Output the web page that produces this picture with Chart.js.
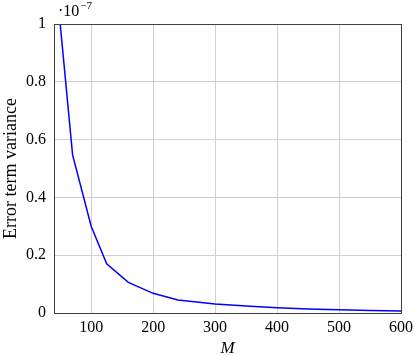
<!DOCTYPE html>
<html lang="en">
<head>
    <meta charset="UTF-8">
    <title>Error term variance</title>
    <script src="https://cdn.jsdelivr.net/npm/chart.js@4.4.0/dist/chart.umd.min.js"></script>
    <style>
        html, body {
            margin: 0;
            padding: 0;
            background: #fff;
        }
        .chart-container {
            position: relative;
            width: 414px;
            height: 356px;
        }
    </style>
</head>
<body>
    <div class="chart-container">
        <canvas id="myChart"></canvas>
    </div>
    <script>
        // values, y in units of 1e-7
        const mValues = [50, 70, 100, 125, 160, 200, 240, 300, 350, 400, 450, 500, 550, 600];
        const variance = [1.0, 0.547, 0.30, 0.17, 0.106, 0.068, 0.045, 0.031, 0.024, 0.018, 0.014, 0.011, 0.009, 0.007];
        const xTicks = [100, 200, 300, 400, 500, 600];
        const yTicks = [0, 0.2, 0.4, 0.6, 0.8, 1];

        const serif = "'Liberation Serif', serif";
        const ctx = document.getElementById('myChart').getContext('2d');

        // box round the plot plus the 10^-7 factor label
        const framePlugin = {
            id: 'frame',
            afterDraw(chart) {
                const a = chart.chartArea;
                const c = chart.ctx;
                c.save();
                c.strokeStyle = '#404040';
                c.lineWidth = 1;
                c.strokeRect(Math.round(a.left) + 0.5, Math.round(a.top) + 0.5,
                    Math.round(a.right - a.left), Math.round(a.bottom - a.top));
                c.fillStyle = '#000';
                c.textBaseline = 'alphabetic';
                c.font = '16px ' + serif;
                c.fillText('\u00b710', a.left + 4, 16);
                const w = c.measureText('\u00b710').width;
                c.font = '11px ' + serif;
                c.fillText('\u22127', a.left + 5 + w, 9);
                c.restore();
            }
        };

        new Chart(ctx, {
            type: 'line',
            data: {
                datasets: [{
                    label: 'variance',
                    data: mValues.map((m, i) => ({ x: m, y: variance[i] })),
                    borderColor: '#0000ff',
                    borderWidth: 1.5,
                    pointRadius: 0,
                    tension: 0,
                    fill: false
                }]
            },
            options: {
                responsive: true,
                maintainAspectRatio: false,
                animation: false,
                layout: {
                    padding: { left: 0, right: 13, top: 24, bottom: 0 }
                },
                plugins: {
                    legend: { display: false },
                    tooltip: { enabled: false }
                },
                scales: {
                    x: {
                        type: 'linear',
                        min: 40,
                        max: 600,
                        afterBuildTicks: s => { s.ticks = xTicks.map(v => ({ value: v })); },
                        afterFit: s => {
                            s.height = 43;
                            s.paddingLeft = 0;
                            s.paddingRight = 0;
                        },
                        grid: { color: '#d0d0d0', drawTicks: false },
                        border: { display: false },
                        ticks: {
                            color: '#000',
                            padding: 5,
                            maxRotation: 0,
                            font: { family: serif, size: 16 }
                        },
                        title: {
                            display: true,
                            text: 'M',
                            color: '#000',
                            padding: { top: 0, bottom: -3 },
                            font: { family: serif, size: 17, style: 'italic' }
                        }
                    },
                    y: {
                        min: 0,
                        max: 1,
                        afterBuildTicks: s => { s.ticks = yTicks.map(v => ({ value: v })); },
                        afterFit: s => {
                            s.width = 54;
                            s.paddingTop = 0;
                            s.paddingBottom = 0;
                        },
                        grid: { color: '#d0d0d0', drawTicks: false },
                        border: { display: false },
                        ticks: {
                            color: '#000',
                            padding: 8,
                            callback: v => String(v),
                            font: { family: serif, size: 16 }
                        },
                        title: {
                            display: true,
                            text: 'Error term variance',
                            color: '#000',
                            padding: { top: 0, bottom: 0 },
                            font: { family: serif, size: 18 }
                        }
                    }
                }
            },
            plugins: [framePlugin]
        });
    </script>
</body>
</html>
